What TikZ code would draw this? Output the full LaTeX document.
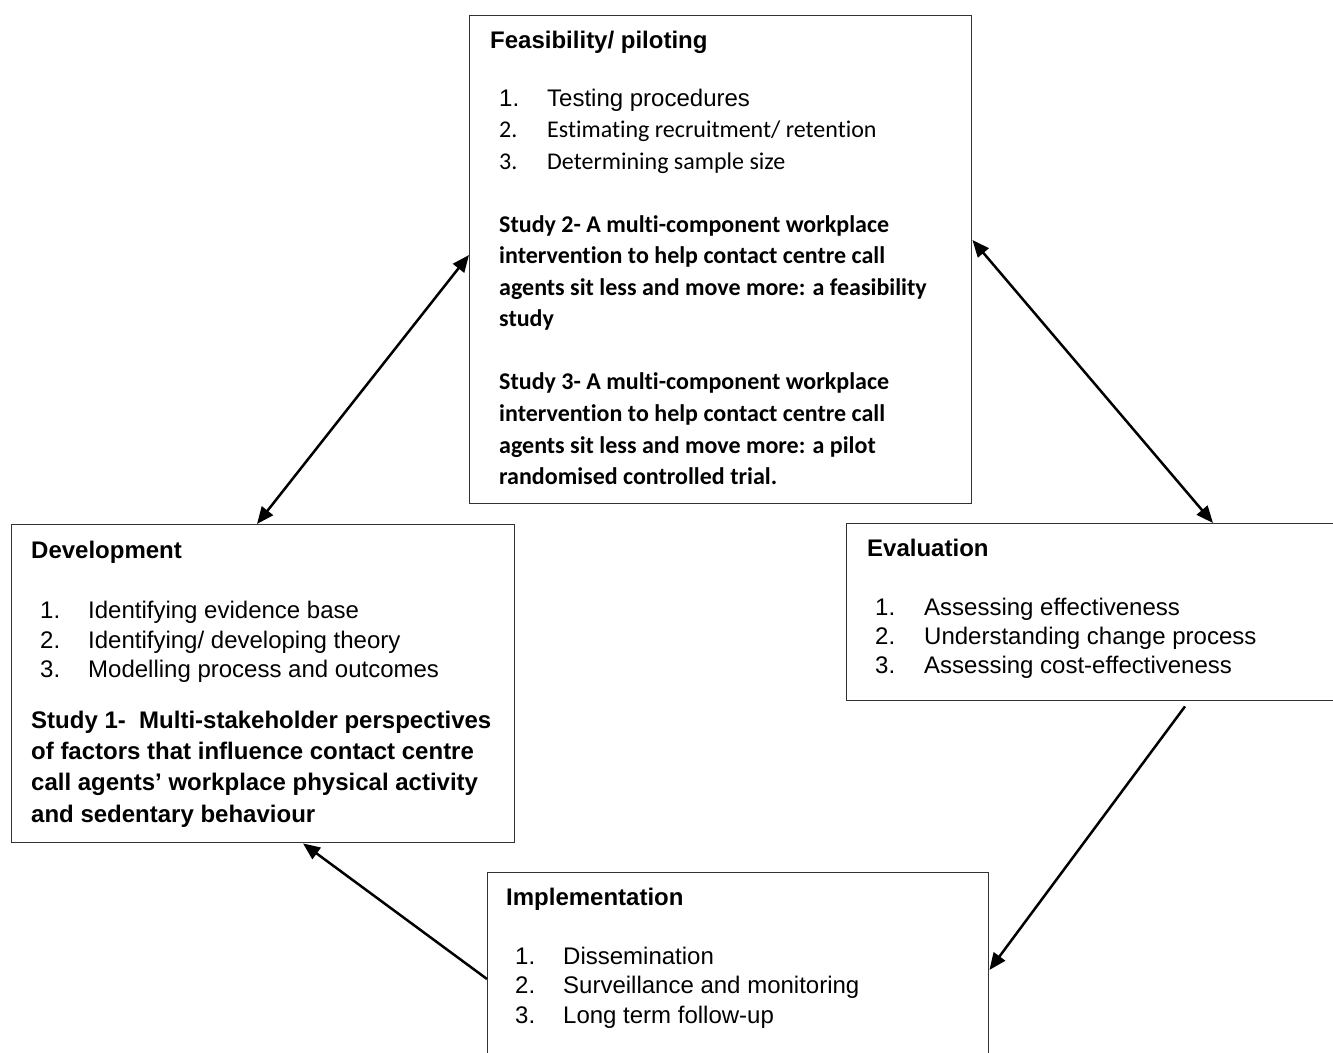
\documentclass[tikz,border=0pt]{standalone}
\usepackage{fontspec}
\setmainfont{Liberation Sans}
\newfontfamily\calibri[RawFeature={-liga;-clig;-calt}]{Carlito}
\usetikzlibrary{arrows.meta}
\begin{document}
\begin{tikzpicture}[x=1pt,y=-1pt,
 box/.style={draw=black!80, line width=1.4pt, rectangle, inner sep=0pt, anchor=north west},
 txt/.style={anchor=base west, inner sep=0pt, font=\fontsize{24}{30}\selectfont},
 hd/.style={anchor=base west, inner sep=0pt, font=\fontsize{24}{30}\selectfont\bfseries},
 cal/.style={anchor=base west, inner sep=0pt, font=\fontsize{24}{30}\selectfont\calibri},
 calb/.style={anchor=base west, inner sep=0pt, font=\fontsize{24}{30}\selectfont\calibri\bfseries},
 conn/.style={line width=2.5pt, {Triangle[length=17pt,width=14pt]}-{Triangle[length=17pt,width=14pt]}},
 conna/.style={line width=2.5pt, -{Triangle[length=17pt,width=14pt]}}]
\useasboundingbox (0,0) rectangle (1333,1052);
\clip (0,0) rectangle (1333,1052);
% boxes
\node[box, minimum width=502pt, minimum height=488pt] (feas) at (469,15) {};
\node[box, minimum width=503pt, minimum height=318pt] (dev) at (11,524) {};
\node[box, minimum width=500pt, minimum height=177pt] (eval) at (846,523) {};
\node[box, minimum width=501pt, minimum height=200pt] (impl) at (487,872) {};
% Feasibility text
\node[hd] (fh) at (490,48) {Feasibility/ piloting};
\node[txt] (f1n) at (499,106) {1.};
\node[txt] (f1) at (547,106) {Testing procedures};
\node[cal] (f2n) at (499,137) {2.};
\node[cal] (f2) at (547,137) {Estimating recruitment/ retention};
\node[cal] (f3n) at (499,169) {3.};
\node[cal] (f3) at (547,169) {Determining sample size};
\node[calb] (fs2a) at (499,232) {Study 2- A multi-component workplace};
\node[calb] (fs2b) at (499,263) {intervention to help contact centre call};
\node[calb] (fs2c) at (499,295) {agents sit less and move more: a feasibility};
\node[calb] (fs2d) at (499,326) {study};
\node[calb] (fs3a) at (499,389) {Study 3- A multi-component workplace};
\node[calb] (fs3b) at (499,421) {intervention to help contact centre call};
\node[calb] (fs3c) at (499,453) {agents sit less and move more: a pilot};
\node[calb] (fs3d) at (499,484) {randomised controlled trial.};
% Development text
\node[hd] (dh) at (31,558) {Development};
\node[txt] (d1n) at (40,618) {1.};
\node[txt] (d1) at (88,618) {Identifying evidence base};
\node[txt] (d2n) at (40,648) {2.};
\node[txt] (d2) at (88,648) {Identifying/ developing theory};
\node[txt] (d3n) at (40,677) {3.};
\node[txt] (d3) at (88,677) {Modelling process and outcomes};
\node[hd] (ds1a) at (31,728) {Study 1-~ Multi-stakeholder perspectives};
\node[hd] (ds1b) at (31,759) {of factors that influence contact centre};
\node[hd] (ds1c) at (31,790) {call agents’ workplace physical activity};
\node[hd] (ds1d) at (31,822) {and sedentary behaviour};
% Evaluation text
\node[hd] (eh) at (867,556) {Evaluation};
\node[txt] (e1n) at (875,615) {1.};
\node[txt] (e1) at (924,615) {Assessing effectiveness};
\node[txt] (e2n) at (875,644) {2.};
\node[txt] (e2) at (924,644) {Understanding change process};
\node[txt] (e3n) at (875,673) {3.};
\node[txt] (e3) at (924,673) {Assessing cost-effectiveness};
% Implementation text
\node[hd] (ih) at (506,905) {Implementation};
\node[txt] (i1n) at (515,964) {1.};
\node[txt] (i1) at (563,964) {Dissemination};
\node[txt] (i2n) at (515,993) {2.};
\node[txt] (i2) at (563,993) {Surveillance and monitoring};
\node[txt] (i3n) at (515,1023) {3.};
\node[txt] (i3) at (563,1023) {Long term follow-up};
% connectors
\draw[conn] ([xshift=246pt]dev.north west) -- ([yshift=-240pt]feas.north west);
\draw[conn] ([yshift=-225pt]feas.north east) -- ([xshift=367pt]eval.north west);
\draw[conna] ([xshift=339pt,yshift=-5pt]eval.south west) -- ([yshift=-98pt]impl.north east);
\draw[conna] ([yshift=-107pt]impl.north west) -- ([xshift=292pt]dev.south west);
\end{tikzpicture}
\end{document}
